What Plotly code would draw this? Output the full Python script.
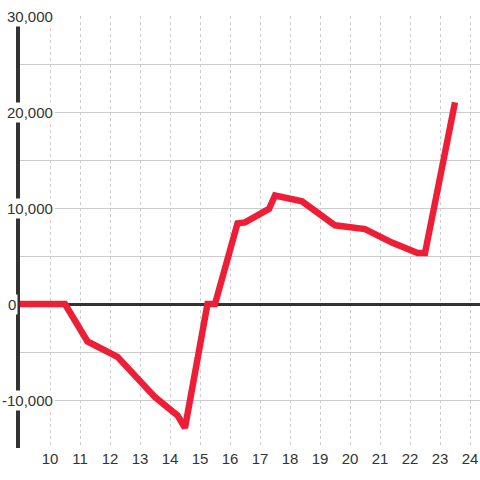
import plotly.graph_objects as go

# Data
hours = [9, 10.5, 11.25, 12.25, 13.5, 14.25, 14.5, 15.25, 15.5, 16.25, 16.5,
         17.3, 17.5, 18.4, 19.5, 20.5, 21.4, 22.25, 22.5, 23.5]
values = [0, 0, -3900, -5500, -9700, -11600, -12900, 0, 0, 8400, 8500,
          9900, 11300, 10700, 8200, 7800, 6400, 5300, 5300, 21000]

x_ticks = list(range(10, 25))
y_label_vals = [30000, 20000, 10000, 0, -10000]
y_label_text = ["30,000", "20,000", "10,000", "0", "-10,000"]

FONT = "Liberation Sans, Arial, sans-serif"
TXT = "#333333"

fig = go.Figure()
fig.add_trace(go.Scatter(
    x=hours, y=values, mode="lines",
    line=dict(color="#ee1e36", width=6.5),
    hoverinfo="skip", showlegend=False,
))

# y tick labels sit on top of the axis line with a white background
for v, t in zip(y_label_vals, y_label_text):
    if v == 0:
        xpos = -2 / 460
    else:
        xpos = 35 / 460
    fig.add_annotation(
        x=xpos, y=v, xref="paper", yref="y", text=t, showarrow=False,
        xanchor="right", yanchor="middle", bgcolor="white", borderpad=1,
        font=dict(family=FONT, size=15, color=TXT),
    )

fig.update_xaxes(
    range=[9, 9 + 460 / 30],
    tickvals=x_ticks, ticktext=[str(t) for t in x_ticks],
    showgrid=True, gridcolor="#cccccc", gridwidth=1, griddash="dot",
    zeroline=False, showline=False, ticks="", automargin=False,
    tickfont=dict(family=FONT, size=15, color=TXT),
)
fig.update_yaxes(
    range=[-15000, 30000], dtick=5000, showticklabels=False,
    showgrid=True, gridcolor="#cccccc", gridwidth=1,
    zeroline=True, zerolinecolor="#333333", zerolinewidth=3,
    showline=True, linecolor="#333333", linewidth=3.5, layer="below traces",
    ticks="",
)

fig.update_layout(
    width=480, height=480,
    margin=dict(l=20, r=0, t=16, b=32),
    paper_bgcolor="white", plot_bgcolor="white",
    font=dict(family=FONT, color=TXT),
)

# the page body has a default 8px margin; drop it so the figure fills the window
fig.write_html(
    "out.html",
    config={"displayModeBar": False},
    post_script="document.body.style.margin='0';document.body.style.overflow='hidden';",
)
